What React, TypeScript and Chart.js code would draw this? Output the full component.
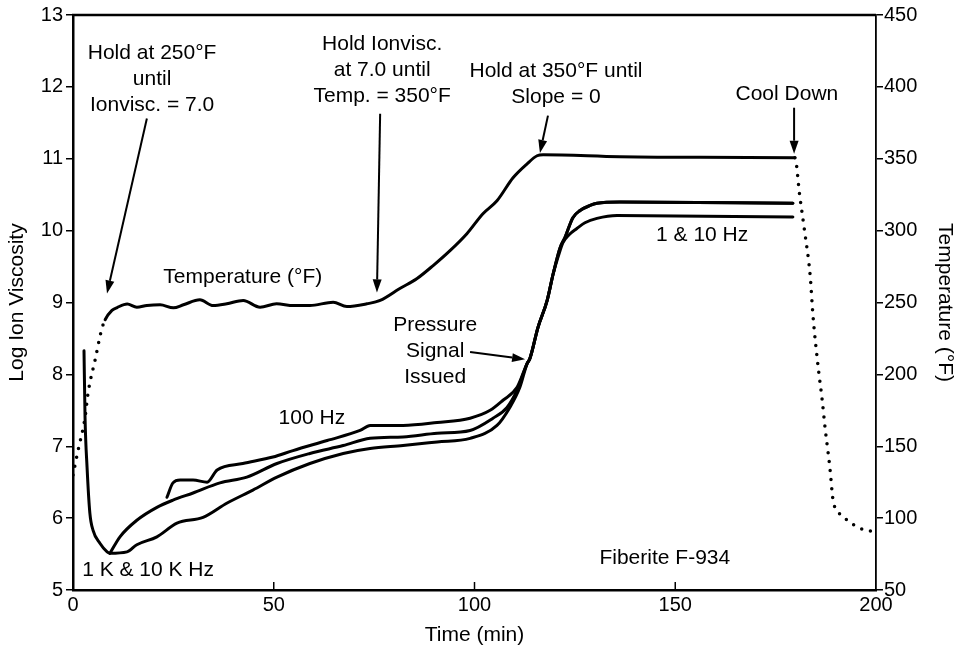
import React, { useEffect, useRef } from "react";
import { Chart, registerables } from "chart.js";
Chart.register(...registerables);

const FONT = "'Liberation Sans', Arial, Helvetica, sans-serif";

// Temperature (°F) – right axis
const tempTime = [0, 1.25, 3.0, 3.75, 5.5, 7.2, 8.0, 9.7, 11.0, 13.5, 15.9, 18.4, 21.7, 25.0, 27.5, 31.6, 34.9, 38.3, 42.4, 46.6, 50.7, 54.9, 59.0, 64.8, 68.2, 73.2, 76.5, 81.4, 85.7, 89.7, 93.9, 98.1, 102.1, 105.6, 109.6, 113.1, 115.6, 117.1, 136.2, 156.2, 179.8, 181.0, 182.3, 183.6, 184.3, 185.6, 186.6, 187.3, 188.5, 189.3, 190.3, 192.8, 196.0, 199.8];
const tempF = [130, 147, 170, 187, 210, 232, 238, 244.5, 246.5, 249, 246.7, 247.9, 248.4, 246.3, 248.4, 251.9, 247.9, 249.1, 251.4, 246.7, 249.1, 247.9, 247.9, 250.2, 247.2, 249.1, 251.4, 259.7, 266.7, 275.7, 286.1, 297.9, 311.8, 320.8, 336.8, 346.5, 352.1, 352.8, 351.4, 351.0, 350.7, 324.3, 297.9, 268.8, 241, 204.9, 182, 163.2, 135.4, 112.5, 105.6, 98.6, 93, 90.3];
const heatDottedUntil = 8.0;
const coolDottedFrom = 179.8;

// Log ion viscosity – left axis
const highTime = [23.4, 24.9, 26.7, 29.9, 33.4, 35.9, 42.3, 49.8, 54.8, 63.3, 71.5, 74.0, 82.2, 90.7, 98.9, 103.9, 107.1, 110.6, 113.1, 113.8, 115.8, 118.1, 119.6, 121.3, 122.5, 124.5, 126.3, 128.8, 130.5, 136.2, 179.3];
const highVisc = [6.29, 6.49, 6.53, 6.53, 6.50, 6.67, 6.76, 6.85, 6.94, 7.08, 7.22, 7.29, 7.29, 7.33, 7.39, 7.50, 7.64, 7.82, 8.15, 8.22, 8.65, 9.03, 9.40, 9.76, 9.90, 10.18, 10.28, 10.35, 10.38, 10.40, 10.38];

const midTime = [9.2, 11.7, 15.9, 20.9, 24.9, 29.9, 36.6, 43.3, 50.8, 59.0, 67.3, 74.0, 82.2, 90.7, 98.9, 104.6, 108.1, 110.6, 113.1, 113.8, 115.8, 118.1, 119.6, 121.3, 122.5, 124.5, 126.3, 128.8, 130.5, 136.2, 179.3];
const midVisc = [5.51, 5.74, 5.97, 6.15, 6.25, 6.35, 6.49, 6.57, 6.76, 6.90, 7.01, 7.11, 7.13, 7.18, 7.22, 7.39, 7.54, 7.78, 8.15, 8.22, 8.65, 9.03, 9.40, 9.76, 9.90, 10.18, 10.28, 10.35, 10.38, 10.40, 10.38];

const lowTime = [2.74, 3.0, 3.5, 4.2, 5.0, 6.7, 8.5, 9.2, 13.45, 15.9, 20.9, 25.9, 32.4, 38.4, 44.8, 50.8, 59.0, 67.3, 74.0, 82.2, 90.7, 98.9, 105.6, 108.8, 111.3, 113.1, 113.8, 115.8, 118.1, 119.6, 121.3, 122.0, 123.5, 125.5, 127.5, 130.5, 135.5, 179.3];
const lowVisc = [8.33, 7.40, 6.71, 6.07, 5.83, 5.65, 5.53, 5.51, 5.53, 5.63, 5.74, 5.93, 6.01, 6.21, 6.39, 6.57, 6.76, 6.90, 6.97, 7.01, 7.06, 7.11, 7.29, 7.54, 7.82, 8.15, 8.22, 8.65, 9.03, 9.40, 9.72, 9.83, 9.94, 10.03, 10.11, 10.17, 10.21, 10.19];

// Axis ranges / ticks
const xRange = [0, 200];
const xStep = 50;
const leftRange = [5, 13];
const leftStep = 1;
const rightRange = [50, 450];
const rightStep = 50;

// Annotations (x in min, y in log ion viscosity units)
const noteTexts = [
  ["Hold at 250°F", "until", "Ionvisc. = 7.0"],
  ["Hold Ionvisc.", "at 7.0 until", "Temp. = 350°F"],
  ["Hold at 350°F until", "Slope = 0"],
  ["Cool Down"],
  ["Temperature (°F)"],
  ["100 Hz"],
  ["1 K & 10 K Hz"],
  ["Pressure", "Signal", "Issued"],
  ["1 & 10 Hz"],
  ["Fiberite F-934"],
];
const noteX = [19.7, 77.0, 120.3, 177.8, 42.3, 59.5, 18.7, 90.2, 156.7, 147.4];
const noteY = [12.47, 12.6, 12.22, 11.9, 9.35, 7.39, 5.28, 8.69, 9.93, 5.44];

const arrowFromX = [18.4, 76.5, 118.3, 179.6, 98.9];
const arrowFromY = [11.56, 11.625, 11.6, 11.71, 8.31];
const arrowToX = [8.47, 75.7, 116.3, 179.6, 112.6];
const arrowToY = [9.125, 9.14, 11.08, 11.07, 8.21];

const toXY = (xs: number[], ys: number[]) => xs.map((x, i) => ({ x, y: ys[i] }));

const annotPlugin = {
  id: "annot",
  afterDatasetsDraw(chart: any) {
    const { ctx, chartArea: ca } = chart;
    const xs = chart.scales.x;
    const ys = chart.scales.y;
    ctx.save();
    // frame top line
    ctx.strokeStyle = "#000";
    ctx.lineWidth = 2.5;
    ctx.beginPath();
    ctx.moveTo(ca.left - 1, ca.top);
    ctx.lineTo(ca.right, ca.top);
    ctx.stroke();
    // inward x ticks
    ctx.lineWidth = 1.5;
    for (let v = xRange[0] + xStep; v < xRange[1]; v += xStep) {
      const px = xs.getPixelForValue(v);
      ctx.beginPath();
      ctx.moveTo(px, ca.bottom);
      ctx.lineTo(px, ca.bottom - 8);
      ctx.stroke();
    }
    // texts
    ctx.fillStyle = "#000";
    ctx.font = `21px ${FONT}`;
    ctx.textAlign = "center";
    ctx.textBaseline = "middle";
    noteTexts.forEach((lines, i) => {
      const px = xs.getPixelForValue(noteX[i]);
      const py = ys.getPixelForValue(noteY[i]);
      lines.forEach((l, j) => ctx.fillText(l, px, py + j * 26));
    });
    // arrows
    arrowFromX.forEach((_, i) => {
      const x0 = xs.getPixelForValue(arrowFromX[i]);
      const y0 = ys.getPixelForValue(arrowFromY[i]);
      const x1 = xs.getPixelForValue(arrowToX[i]);
      const y1 = ys.getPixelForValue(arrowToY[i]);
      const ang = Math.atan2(y1 - y0, x1 - x0);
      const len = 13, hw = 4.5;
      const bx = x1 - Math.cos(ang) * len;
      const by = y1 - Math.sin(ang) * len;
      ctx.lineWidth = 2;
      ctx.beginPath();
      ctx.moveTo(x0, y0);
      ctx.lineTo(bx, by);
      ctx.stroke();
      ctx.beginPath();
      ctx.moveTo(x1, y1);
      ctx.lineTo(bx + Math.sin(ang) * hw, by - Math.cos(ang) * hw);
      ctx.lineTo(bx - Math.sin(ang) * hw, by + Math.cos(ang) * hw);
      ctx.closePath();
      ctx.fill();
    });
    ctx.restore();
  },
};

export default function App() {
  const ref = useRef<HTMLCanvasElement>(null);
  useEffect(() => {
    if (!ref.current) return;
    Chart.defaults.font.family = FONT;
    Chart.defaults.color = "#000";
    const lineBase = {
      borderColor: "#000",
      borderWidth: 3,
      pointRadius: 0,
      fill: false,
      cubicInterpolationMode: "monotone" as const,
      borderCapStyle: "round" as const,
      borderJoinStyle: "round" as const,
    };
    const chart = new Chart(ref.current, {
      type: "line",
      data: {
        datasets: [
          {
            ...lineBase,
            label: "Temperature",
            data: toXY(tempTime, tempF),
            yAxisID: "y2",
            segment: {
              borderDash: (c: any) =>
                c.p1.parsed.x <= heatDottedUntil || c.p0.parsed.x >= coolDottedFrom ? [0, 9] : undefined,
              borderWidth: (c: any) =>
                c.p1.parsed.x <= heatDottedUntil || c.p0.parsed.x >= coolDottedFrom ? 3.5 : undefined,
            },
          },
          { ...lineBase, label: "100 Hz", data: toXY(highTime, highVisc), yAxisID: "y" },
          { ...lineBase, label: "mid", data: toXY(midTime, midVisc), yAxisID: "y" },
          { ...lineBase, label: "low", data: toXY(lowTime, lowVisc), yAxisID: "y" },
        ],
      },
      options: {
        responsive: false,
        animation: false,
        devicePixelRatio: 1,
        layout: { padding: { top: 14, left: 0, right: 0, bottom: 0 } },
        plugins: { legend: { display: false }, tooltip: { enabled: false } },
        scales: {
          x: {
            type: "linear",
            min: xRange[0],
            max: xRange[1],
            ticks: { stepSize: xStep, autoSkip: false, maxRotation: 0, font: { size: 20 }, padding: 3, color: "#000" },
            grid: { display: true, drawOnChartArea: false, drawTicks: false },
            border: { display: true, color: "#000", width: 2.5 },
            title: { display: true, text: "Time (min)", font: { size: 21 }, padding: { bottom: 3, top: 0 }, color: "#000" },
            afterFit: (s: any) => { s.height = 61; },
          },
          y: {
            type: "linear",
            position: "left",
            min: leftRange[0],
            max: leftRange[1],
            ticks: { stepSize: leftStep, font: { size: 20 }, padding: 3, color: "#000" },
            grid: { drawOnChartArea: false, drawTicks: true, tickLength: 7, color: "#000", lineWidth: 1.5 },
            border: { display: true, color: "#000", width: 2.5 },
            title: { display: true, text: "Log Ion Viscosity", font: { size: 21 }, padding: { top: 5, bottom: 0 }, color: "#000" },
            afterFit: (s: any) => { s.width = 73; },
          },
          y2: {
            type: "linear",
            position: "right",
            min: rightRange[0],
            max: rightRange[1],
            ticks: { stepSize: rightStep, font: { size: 20 }, padding: 1, color: "#000" },
            grid: { drawOnChartArea: false, drawTicks: true, tickLength: 7, color: "#000", lineWidth: 1.5 },
            border: { display: true, color: "#000", width: 1.8 },
            title: { display: true, text: "Temperature (°F)", font: { size: 21 }, padding: { top: 4, bottom: 0 }, color: "#000" },
            afterFit: (s: any) => { s.width = 85; },
          },
        },
      },
      plugins: [annotPlugin],
    });
    return () => chart.destroy();
  }, []);
  return (
    <div style={{ position: "fixed", left: 0, top: 0, width: 961, height: 651, background: "#fff" }}>
      <canvas ref={ref} width={961} height={651} style={{ display: "block" }} />
    </div>
  );
}
